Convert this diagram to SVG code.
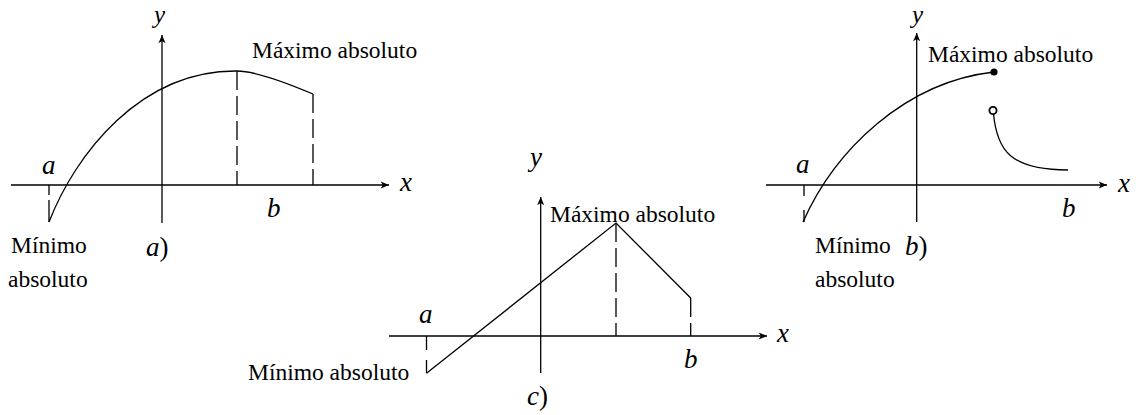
<svg xmlns="http://www.w3.org/2000/svg" width="1142" height="415" viewBox="0 0 1142 415">
<style>
.ax{stroke:#000;stroke-width:1.3;fill:none;marker-end:url(#arr)}
.cv{stroke:#000;stroke-width:1.3;fill:none}
.dl{stroke:#000;stroke-width:1.3;fill:none;stroke-dasharray:19 6}
.ds{stroke:#000;stroke-width:1.3;fill:none}
.t{font-family:"Liberation Serif","Times New Roman",serif;font-size:23.5px;fill:#000}
.v{font-family:"Liberation Serif","Times New Roman",serif;font-size:27px;font-style:italic;fill:#000}
.vy{font-size:25px}
.up{font-style:normal}
</style>
<defs>
<marker id="arr" markerUnits="userSpaceOnUse" markerWidth="10" markerHeight="10" viewBox="-8 -4 9 8" refX="0" refY="0" orient="auto">
<path d="M0,0 L-7.5,-3.2 L-5.5,0 L-7.5,3.2 Z" fill="#000"/>
</marker>
</defs>
<g id="panel-a">
<line class="ax" x1="11" y1="185" x2="389" y2="185"/>
<line class="ax" x1="162" y1="223" x2="162" y2="35"/>
<path class="cv" d="M49 222 C75 155 140 70 237 71 C252 71 280 80 313 94"/>
<line class="dl" x1="237" y1="71" x2="237" y2="185"/>
<line class="dl" x1="313" y1="94" x2="313" y2="185"/>
<path class="ds" d="M49 185 V195 M49 200 V222"/>
<text class="v vy" x="154" y="23">y</text>
<text class="v" x="400" y="191">x</text>
<text class="v" x="42" y="174">a</text>
<text class="v" x="267" y="217">b</text>
<text class="t" x="252" y="58">Máximo absoluto</text>
<text class="t" x="11" y="253">Mínimo</text>
<text class="t" x="8" y="287">absoluto</text>
<text class="v" x="146" y="256">a<tspan class="up">)</tspan></text>
</g>
<g id="panel-c">
<line class="ax" x1="389" y1="336" x2="767" y2="336"/>
<line class="ax" x1="540.7" y1="373" x2="540.7" y2="197"/>
<path class="cv" d="M426.5 373.3 L616 223 L690.7 298"/>
<line class="dl" x1="616" y1="223" x2="616" y2="336"/>
<line class="dl" x1="690.7" y1="298" x2="690.7" y2="336"/>
<path class="ds" d="M426.5 336 V350 M426.5 360 V373"/>
<text class="v" x="530" y="166">y</text>
<text class="v" x="777" y="342">x</text>
<text class="v" x="419" y="323">a</text>
<text class="v" x="684" y="368">b</text>
<text class="t" x="550" y="221.5">Máximo absoluto</text>
<text class="t" x="248" y="380">Mínimo absoluto</text>
<text class="v" x="527" y="405">c<tspan class="up">)</tspan></text>
</g>
<g id="panel-b">
<line class="ax" x1="766" y1="185" x2="1107" y2="185"/>
<line class="ax" x1="916.7" y1="222" x2="916.7" y2="33"/>
<path class="cv" d="M803 222 C835 150 905 82 994 72"/>
<path class="cv" d="M993.5 114 C997 150 1010 170 1068 170"/>
<circle cx="994" cy="72" r="3.6" fill="#000"/>
<circle cx="993" cy="110.5" r="3.6" fill="#fff" stroke="#000" stroke-width="1.8"/>
<path class="ds" d="M804 185 V196 M804 210 V222"/>
<text class="v vy" x="912" y="23">y</text>
<text class="v" x="1118" y="192">x</text>
<text class="v" x="796" y="173">a</text>
<text class="v" x="1062" y="217">b</text>
<text class="t" x="928" y="61.5">Máximo absoluto</text>
<text class="t" x="815" y="253">Mínimo</text>
<text class="t" x="815" y="287">absoluto</text>
<text class="v" x="905" y="255">b<tspan class="up">)</tspan></text>
</g>
</svg>
